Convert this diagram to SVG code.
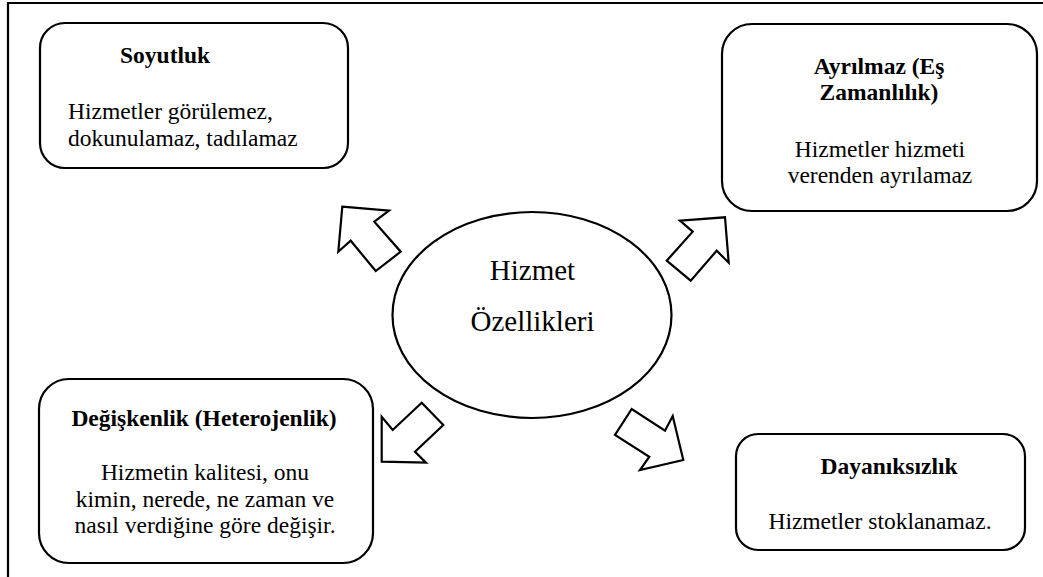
<svg xmlns="http://www.w3.org/2000/svg" width="1043" height="577" viewBox="0 0 1043 577">
<style>
.box{fill:#fff;stroke:#000;stroke-width:2.2}
.arr{fill:#fff;stroke:#000;stroke-width:2.2;stroke-linejoin:miter}
.t{font-size:23.5px}
.b{font-weight:bold}
.c{text-anchor:middle}
.big{font-size:29px;text-anchor:middle}
</style>
<rect width="1043" height="577" fill="#fff"/>
<path d="M8,577 V3 H1043" fill="none" stroke="#000" stroke-width="2.2"/>
<g id="soyutluk">
<rect class="box" x="40" y="23" width="308" height="145" rx="25"/>
<text font-family="Liberation Serif" class="t b" x="120" y="63">Soyutluk</text>
<text font-family="Liberation Serif" class="t" x="68" y="119">Hizmetler görülemez,</text>
<text font-family="Liberation Serif" class="t" x="68" y="145.5">dokunulamaz, tadılamaz</text>
</g>
<g id="ayrilmaz">
<rect class="box" x="722" y="24" width="315" height="187" rx="30"/>
<text font-family="Liberation Serif" class="t b c" x="879" y="74">Ayrılmaz (Eş</text>
<text font-family="Liberation Serif" class="t b c" x="879" y="100">Zamanlılık)</text>
<text font-family="Liberation Serif" class="t c" x="880" y="156.5">Hizmetler hizmeti</text>
<text font-family="Liberation Serif" class="t c" x="880" y="182.5">verenden ayrılamaz</text>
</g>
<g id="merkez">
<ellipse class="box" cx="532" cy="315" rx="139.5" ry="103"/>
<text font-family="Liberation Serif" class="big" x="532.5" y="280">Hizmet</text>
<text font-family="Liberation Serif" class="big" x="532.5" y="330.5">Özellikleri</text>
</g>
<g id="degiskenlik">
<rect class="box" x="39" y="379" width="334" height="184" rx="30"/>
<text font-family="Liberation Serif" class="t b c" x="204" y="426">Değişkenlik (Heterojenlik)</text>
<text font-family="Liberation Serif" class="t c" x="205" y="480">Hizmetin kalitesi, onu</text>
<text font-family="Liberation Serif" class="t c" x="205" y="506.5">kimin, nerede, ne zaman ve</text>
<text font-family="Liberation Serif" class="t c" x="205" y="533">nasıl verdiğine göre değişir.</text>
</g>
<g id="dayaniksizlik">
<rect class="box" x="736" y="434" width="289" height="116" rx="22"/>
<text font-family="Liberation Serif" class="t b c" x="889" y="474">Dayanıksızlık</text>
<text font-family="Liberation Serif" class="t c" x="880" y="529">Hizmetler stoklanamaz.</text>
</g>
<g id="connectors">
<polygon class="arr" points="342.3,206.7 389,210.7 374.3,221.7 400.7,251.7 375.7,271 350.7,240.7 338.3,251.7"/>
<polygon class="arr" points="725,217.3 728.7,262.7 716.7,250.7 690.7,280.7 666.7,260.7 692.7,231.7 680,220.7"/>
<polygon class="arr" points="381.7,461.7 381.7,416.7 392.7,430 421.7,402.7 443.3,425 415,451.7 426,462.7"/>
<polygon class="arr" points="683.3,460 672.7,416 665,430.7 631.7,409 615,435 649.3,456.7 640,470"/>
</g>
</svg>
